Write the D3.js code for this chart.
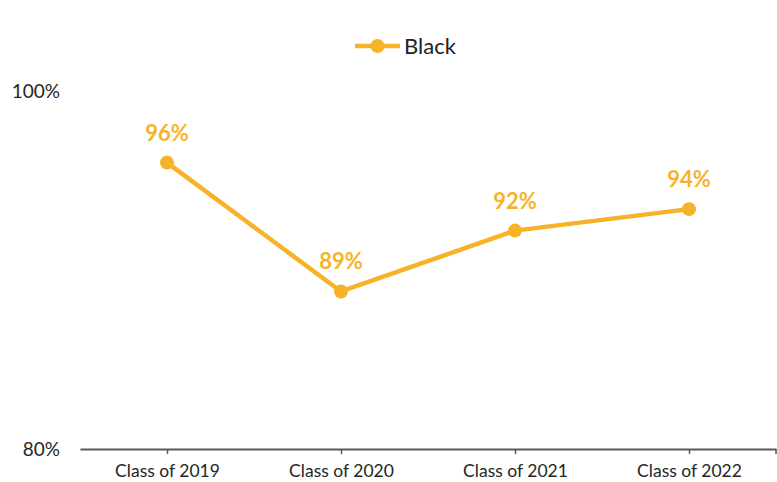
<!DOCTYPE html>
<html>
<head>
<meta charset="utf-8">
<script src="https://cdn.jsdelivr.net/npm/d3@7"></script>
<style>
  html, body { margin: 0; padding: 0; background: #fff; }
  svg { display: block; font-family: Lato, "Open Sans", sans-serif; }
</style>
</head>
<body>
<svg id="chart" width="777" height="482"></svg>
<script>
const categories = ["Class of 2019", "Class of 2020", "Class of 2021", "Class of 2022"];
const values = [96.0, 88.8, 92.2, 93.4];
const valueLabels = ["96%", "89%", "92%", "94%"];
const yTicks = [80, 100];
const yTickLabels = ["80%", "100%"];
const seriesName = "Black";

const color = "#F7B328";
const svg = d3.select("#chart");

const x = d3.scalePoint().domain(categories).range([80, 776]).padding(0.5);
const y = d3.scaleLinear().domain([80, 100]).range([449, 91]);

// X axis
const xAxis = d3.axisBottom(x).tickSize(5).tickSizeOuter(0);
const gx = svg.append("g").attr("transform", `translate(0,${y(80)})`).call(xAxis);
gx.select(".domain").attr("stroke", "#595959").attr("stroke-width", 1.8);
gx.selectAll(".tick line").attr("stroke", "#595959").attr("stroke-width", 1.5);
gx.selectAll(".tick text")
  .attr("font-family", "Lato, sans-serif")
  .attr("font-size", 17.5)
  .attr("fill", "#262626")
  .attr("dy", null)
  .attr("y", 28);
gx.append("line")
  .attr("x1", x.range()[1]).attr("x2", x.range()[1])
  .attr("y1", 0).attr("y2", 5)
  .attr("stroke", "#595959").attr("stroke-width", 1.5);

// Y axis labels
const yAxis = d3.axisLeft(y).tickValues(yTicks).tickSize(0)
  .tickFormat((d, i) => yTickLabels[i]);
const gy = svg.append("g").attr("transform", "translate(60,0)").call(yAxis);
gy.select(".domain").remove();
gy.selectAll(".tick text")
  .attr("font-family", "Lato, sans-serif")
  .attr("font-size", 19)
  .attr("fill", "#262626")
  .attr("x", 0);

// Line
const line = d3.line().x((d, i) => x(categories[i])).y(d => y(d));
svg.append("path")
  .datum(values)
  .attr("d", line)
  .attr("fill", "none")
  .attr("stroke", color)
  .attr("stroke-width", 4.5)
  .attr("stroke-linejoin", "round");

svg.append("g").selectAll("circle")
  .data(values)
  .join("circle")
  .attr("cx", (d, i) => x(categories[i]))
  .attr("cy", d => y(d))
  .attr("r", 7)
  .attr("fill", color);

svg.append("g").selectAll("text")
  .data(values)
  .join("text")
  .attr("x", (d, i) => x(categories[i]))
  .attr("y", d => y(d) - 22)
  .attr("text-anchor", "middle")
  .attr("font-family", "Lato, sans-serif")
  .attr("font-weight", "bold")
  .attr("font-size", 22)
  .attr("fill", color)
  .text((d, i) => valueLabels[i]);

// Legend
const lg = svg.append("g");
lg.append("line").attr("x1", 355).attr("x2", 400).attr("y1", 46).attr("y2", 46)
  .attr("stroke", color).attr("stroke-width", 4.5);
lg.append("circle").attr("cx", 377.5).attr("cy", 46).attr("r", 7).attr("fill", color);
lg.append("text").attr("x", 404).attr("y", 53.5)
  .attr("font-family", "Lato, sans-serif")
  .attr("font-size", 22)
  .attr("fill", "#222")
  .text(seriesName);
</script>
</body>
</html>
